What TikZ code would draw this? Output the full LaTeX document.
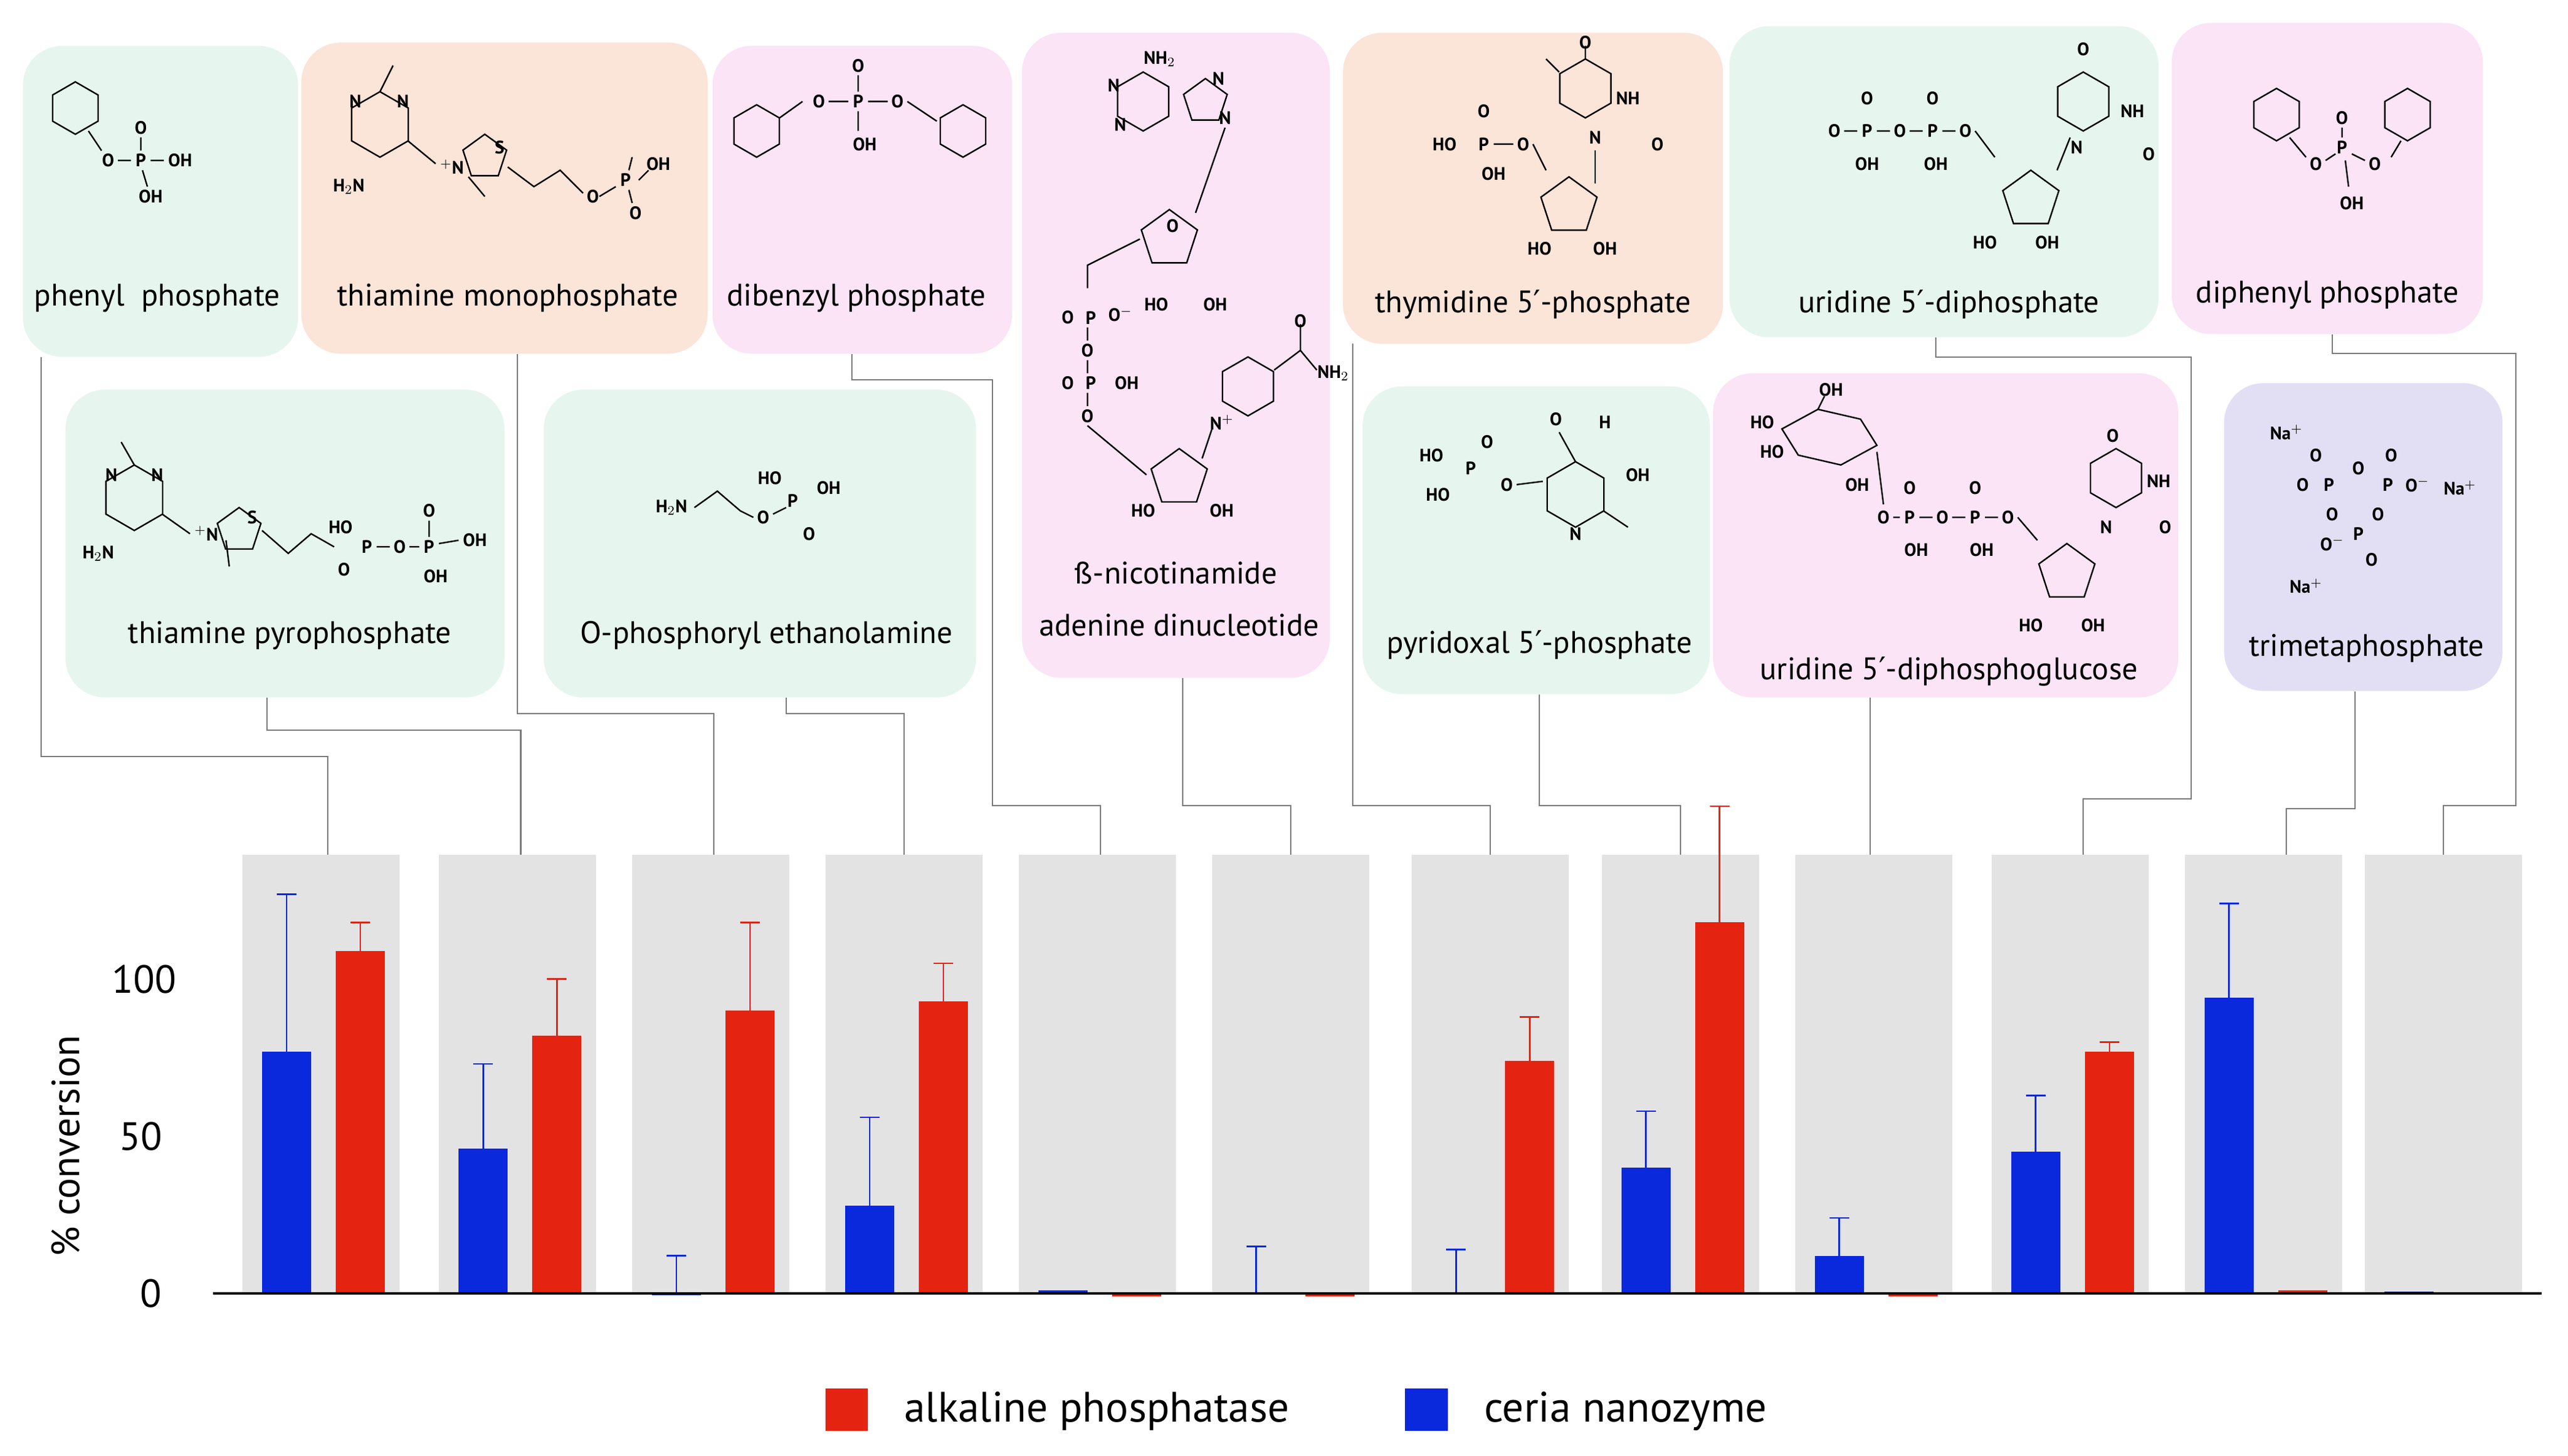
\documentclass[tikz,border=0pt]{standalone}
\usepackage{fontspec}
\setmainfont{PT Sans}
\newfontfamily\djv{DejaVu Sans}
\newcommand\pr{{\djv ′}}
\definecolor{cg}{HTML}{E6F6EE}
\definecolor{cp}{HTML}{FBE4D8}
\definecolor{ck}{HTML}{FAE4F6}
\definecolor{cl}{HTML}{E2DFF5}
\definecolor{pan}{HTML}{E3E3E3}
\definecolor{rr}{HTML}{E42410}
\definecolor{bb}{HTML}{0A28DC}
\definecolor{cn}{HTML}{7A7A7A}
\tikzset{box/.style={rounded corners=24pt,draw=none,inner sep=0},
chem/.style={font=\fontsize{11}{11}\selectfont\bfseries,inner sep=0.5pt,fill=none},
lab/.style={font=\fontsize{19}{21}\selectfont,inner sep=0},
bond/.style={line width=0.9pt},
conn/.style={draw=cn,line width=0.8pt},
panel/.style={fill=pan,draw=none,minimum width=96pt,minimum height=268pt,inner sep=0}}
\newcommand\bx[6]{\pgfmathsetmacro\bw{#4-#2}\pgfmathsetmacro\bh{#5-#3}\node[box,fill=#6,minimum width=\bw pt,minimum height=\bh pt] (#1) at ({(#2+#4)/2},{(#3+#5)/2}) {};}
\newcommand\ct[3]{\node[chem] at (#1,#2) {#3};}
\newcommand\hexa[3]{\draw[bond] (#1,#2) +(90:#3)--+(150:#3)--+(210:#3)--+(270:#3)--+(330:#3)--+(30:#3)--cycle;}
\newcommand\penta[3]{\draw[bond] (#1,#2) +(-90:#3)--+(-18:#3)--+(54:#3)--+(126:#3)--+(198:#3)--cycle;}
\newcommand\bars[5]{%
\pgfmathsetmacro\by{790-1.92*#2}\pgfmathsetmacro\bey{790-1.92*#3}%
\pgfmathsetmacro\ry{790-1.92*#4}\pgfmathsetmacro\rey{790-1.92*#5}%
\fill[bb] (#1+12,790) rectangle (#1+42,\by);
\fill[rr] (#1+57,790) rectangle (#1+87,\ry);
\ifdim #3pt>#2pt \draw[bb,line width=1pt] (#1+27,\by)--(#1+27,\bey) (#1+21,\bey)--(#1+33,\bey);\fi
\ifdim #5pt>#4pt \draw[rr,line width=1pt] (#1+72,\ry)--(#1+72,\rey) (#1+66,\rey)--(#1+78,\rey);\fi}
\begin{document}
\begin{tikzpicture}[x=1pt,y=-1pt]
\useasboundingbox[fill=white] (0,0) rectangle (1568,889);
% boxes
\bx{b1}{14}{28}{182}{218}{cg}
\bx{b2}{184}{26}{432}{216}{cp}
\bx{b3}{435}{28}{618}{216}{ck}
\bx{b4}{624}{20}{812}{414}{ck}
\bx{b5}{820}{20}{1052}{210}{cp}
\bx{b6}{1056}{16}{1318}{206}{cg}
\bx{b7}{1326}{14}{1516}{204}{ck}
\bx{b8}{40}{238}{308}{426}{cg}
\bx{b9}{332}{238}{596}{426}{cg}
\bx{b10}{832}{236}{1044}{424}{cg}
\bx{b11}{1046}{228}{1330}{426}{ck}
\bx{b12}{1358}{234}{1528}{422}{cl}
% labels
\node[lab] (l1) at (96,182) {phenyl\ \ phosphate};
\node[lab] (l2) at (310,182) {thiamine monophosphate};
\node[lab] (l3) at (523,182) {dibenzyl phosphate};
\node[lab] (l4a) at (718,350) {ß-nicotinamide};
\node[lab] (l4b) at (720,382) {adenine dinucleotide};
\node[lab] (l5) at (936,186) {thymidine 5\pr-phosphate};
\node[lab] (l6) at (1190,186) {uridine 5\pr-diphosphate};
\node[lab] (l7) at (1421,180) {diphenyl phosphate};
\node[lab] (l8) at (177,388) {thiamine pyrophosphate};
\node[lab] (l9) at (468,388) {O-phosphoryl ethanolamine};
\node[lab] (l10) at (940,394) {pyridoxal 5\pr-phosphate};
\node[lab] (l11) at (1190,410) {uridine 5\pr-diphosphoglucose};
\node[lab] (l12) at (1445,396) {trimetaphosphate};
% structures
% 1 phenyl phosphate
\hexa{46}{66}{16}
\draw[bond] (54,80)--(62,92) (72,98)--(80,98) (86,92)--(86,84) (92,98)--(100,98) (87,104)--(90,114);
\ct{66}{98}{O}\ct{86}{98}{P}\ct{86}{78}{O}\ct{110}{98}{OH}\ct{92}{120}{OH}
% 2 thiamine monophosphate
\hexa{232}{76}{20}
\draw[bond] (232,56)--(240,40) (249,86)--(266,100) (286,108)--(296,120) (310,102)--(326,114)--(342,104)--(356,118) (366,120)--(376,114) (384,104)--(386,96) (384,116)--(386,124) (390,110)--(396,104);
\ct{246}{62}{N}\ct{217}{62}{N}\ct{213}{114}{H$_2$N}\ct{276}{102}{$^{+}$N}
\penta{296}{96}{14}
\ct{305}{90}{S}\ct{362}{120}{O}\ct{382}{110}{P}\ct{402}{100}{OH}\ct{388}{130}{O}
% 3 dibenzyl
\hexa{462}{80}{16}\hexa{588}{80}{16}
\draw[bond] (476,72)--(490,62) (506,62)--(518,62) (524,56)--(524,46) (530,62)--(542,62) (554,62)--(572,74) (524,68)--(524,80);
\ct{500}{62}{O}\ct{524}{62}{P}\ct{524}{40}{O}\ct{548}{62}{O}\ct{528}{88}{OH}
% 4 NAD
\hexa{698}{62}{18}\penta{736}{62}{14}
\ct{708}{36}{NH$_2$}\ct{680}{52}{N}\ct{684}{76}{N}\ct{748}{72}{N}\ct{744}{48}{N}
\penta{714}{146}{18}
\draw[bond] (748,78)--(730,130) (696,146)--(664,162)--(664,176) (664,200)--(664,208) (664,220)--(664,228) (664,240)--(664,248) (664,260)--(700,290);
\ct{716}{138}{O}\ct{706}{186}{HO}\ct{742}{186}{OH}
\ct{652}{194}{O}\ct{666}{194}{P}\ct{684}{192}{O$^-$}\ct{664}{214}{O}
\ct{652}{234}{O}\ct{666}{234}{P}\ct{688}{234}{OH}\ct{664}{254}{O}
\hexa{762}{236}{18}
\draw[bond] (778,226)--(794,214)--(794,198) (794,214)--(804,226);
\ct{794}{196}{O}\ct{814}{228}{NH$_2$}\ct{746}{258}{N$^+$}
\penta{720}{292}{18}
\draw[bond] (740,262)--(734,280);
\ct{698}{312}{HO}\ct{746}{312}{OH}
% 5 thymidine
\ct{882}{88}{HO}\ct{906}{88}{P}\ct{906}{68}{O}\ct{912}{106}{OH}\ct{930}{88}{O}
\draw[bond] (912,88)--(924,88) (936,88)--(944,104);
\hexa{968}{54}{18}
\draw[bond] (968,36)--(968,28) (952,44)--(944,36);
\ct{968}{26}{O}\ct{994}{60}{NH}\ct{974}{84}{N}\ct{1012}{88}{O}
\penta{958}{126}{18}
\draw[bond] (974,92)--(974,112);
\ct{940}{152}{HO}\ct{980}{152}{OH}
% 6 UDP
\ct{1120}{80}{O}\ct{1140}{80}{P}\ct{1160}{80}{O}\ct{1180}{80}{P}\ct{1200}{80}{O}
\ct{1140}{60}{O}\ct{1180}{60}{O}\ct{1140}{100}{OH}\ct{1182}{100}{OH}
\draw[bond] (1126,80)--(1134,80) (1146,80)--(1154,80) (1166,80)--(1174,80) (1186,80)--(1194,80) (1206,80)--(1218,96);
\penta{1240}{122}{18}
\ct{1212}{148}{HO}\ct{1250}{148}{OH}
\hexa{1272}{62}{18}
\draw[bond] (1264,84)--(1256,104);
\ct{1272}{30}{O}\ct{1302}{68}{NH}\ct{1268}{90}{N}\ct{1312}{94}{O}
% 7 diphenyl
\hexa{1390}{70}{16}\hexa{1470}{70}{16}
\draw[bond] (1398,84)--(1408,96) (1420,98)--(1426,94) (1436,94)--(1444,98) (1460,96)--(1466,86) (1430,84)--(1430,78) (1432,98)--(1434,114);
\ct{1414}{100}{O}\ct{1430}{90}{P}\ct{1450}{100}{O}\ct{1430}{72}{O}\ct{1436}{124}{OH}
% 8 TPP
\hexa{82}{304}{20}
\draw[bond] (82,284)--(74,270) (99,314)--(116,326) (138,330)--(140,346) (160,324)--(176,338)--(190,326)--(204,334);
\ct{96}{290}{N}\ct{68}{290}{N}\ct{60}{338}{H$_2$N}\ct{126}{326}{$^{+}$N}
\penta{146}{324}{14}
\ct{154}{316}{S}\ct{208}{322}{HO}\ct{224}{334}{P}\ct{210}{348}{O}\ct{244}{334}{O}\ct{262}{334}{P}\ct{262}{312}{O}\ct{290}{330}{OH}\ct{266}{352}{OH}
\draw[bond] (230,334)--(238,334) (250,334)--(256,334) (268,332)--(280,330) (262,328)--(262,318);
% 9 O-phosphoryl ethanolamine
\ct{410}{310}{H$_2$N}\ct{466}{316}{O}\ct{484}{306}{P}\ct{470}{292}{HO}\ct{506}{298}{OH}\ct{494}{326}{O}
\draw[bond] (424,310)--(438,300)--(452,312)--(460,316) (472,314)--(480,310);
% 10 pyridoxal
\ct{874}{278}{HO}\ct{898}{286}{P}\ct{908}{270}{O}\ct{878}{302}{HO}\ct{920}{296}{O}
\hexa{962}{302}{20}
\draw[bond] (926,296)--(942,294) (962,282)--(952,264) (979,312)--(994,322);
\ct{950}{256}{O}\ct{980}{258}{H}\ct{1000}{290}{OH}\ct{962}{326}{N}
% 11 UDPG
\draw[bond] (1088,262)--(1110,250)--(1136,256)--(1146,272)--(1124,284)--(1098,278)--cycle (1110,250)--(1114,242);
\ct{1118}{238}{OH}\ct{1076}{258}{HO}\ct{1082}{276}{HO}\ct{1134}{296}{OH}
\ct{1150}{316}{O}\ct{1166}{316}{P}\ct{1186}{316}{O}\ct{1206}{316}{P}\ct{1226}{316}{O}
\ct{1166}{298}{O}\ct{1206}{298}{O}\ct{1170}{336}{OH}\ct{1210}{336}{OH}
\draw[bond] (1146,276)--(1150,308) (1232,316)--(1244,330) (1156,316)--(1160,316) (1172,316)--(1180,316) (1192,316)--(1200,316) (1212,316)--(1220,316);
\penta{1262}{350}{18}
\ct{1240}{382}{HO}\ct{1278}{382}{OH}
\hexa{1292}{292}{18}
\ct{1290}{266}{O}\ct{1318}{294}{NH}\ct{1286}{322}{N}\ct{1322}{322}{O}
% 12 trimetaphosphate
\ct{1396}{264}{Na$^+$}\ct{1414}{278}{O}\ct{1406}{296}{O}\ct{1422}{296}{P}\ct{1440}{286}{O}\ct{1458}{296}{P}\ct{1476}{296}{O$^-$}\ct{1460}{278}{O}
\ct{1502}{298}{Na$^+$}\ct{1424}{314}{O}\ct{1452}{314}{O}\ct{1440}{326}{P}\ct{1448}{342}{O}\ct{1424}{332}{O$^-$}\ct{1408}{358}{Na$^+$}
% panels
\foreach \i/\x in {1/148,2/268,3/386,4/504,5/622,6/740,7/862,8/978,9/1096,10/1216,11/1334,12/1444}{
\node[panel] (p\i) at (\x+48,656) {};}
% connectors
\draw[conn] (25,218)--(25,462)--(200,462)--(200,522);
\draw[conn] (b8.south -| 163,0)--(163,446)--(318,446)--(318,522);
\draw[conn] (b2.south -| 316,0)--(316,436)--(436,436)--(436,522);
\draw[conn] (b9.south -| 480,0)--(480,436)--(552,436)--(552,522);
\draw[conn] (b3.south -| 520,0)--(520,232)--(606,232)--(606,492)--(672,492)--(672,522);
\draw[conn] (b4.south -| 722,0)--(722,492)--(788,492)--(788,522);
\draw[conn] (826,210)--(826,492)--(910,492)--(910,522);
\draw[conn] (b10.south -| 940,0)--(940,492)--(1026,492)--(1026,522);
\draw[conn] (b11.south -| 1142,0)--(1142,522);
\draw[conn] (b6.south -| 1182,0)--(1182,218)--(1338,218)--(1338,488)--(1272,488)--(1272,522);
\draw[conn] (b12.south -| 1438,0)--(1438,494)--(1396,494)--(1396,522);
\draw[conn] (b7.south -| 1424,0)--(1424,216)--(1536,216)--(1536,492)--(1492,492)--(1492,522);
% bars
\bars{148}{77}{127}{109}{118}
\bars{268}{46}{73}{82}{100}
\bars{386}{-0.5}{12}{90}{118}
\bars{504}{28}{56}{93}{105}
\bars{622}{1}{0}{-1}{0}
\bars{740}{0}{15}{-1}{0}
\bars{862}{0}{14}{74}{88}
\bars{978}{40}{58}{118}{155}
\bars{1096}{12}{24}{-1}{0}
\bars{1216}{45}{63}{77}{80}
\bars{1334}{94}{124}{1}{0}
\bars{1444}{0.5}{0}{0}{0}
\draw[line width=1.2pt] (130,790)--(1552,790);
\node[lab,font=\fontsize{24}{24}\selectfont] (t0) at (92,790) {0};
\node[lab,font=\fontsize{24}{24}\selectfont] (t50) at (86,694) {50};
\node[lab,font=\fontsize{24}{24}\selectfont] (t100) at (88,598) {100};
\node[lab,font=\fontsize{24}{24}\selectfont,rotate=90] (yl) at (40,700) {\% conversion};
% legend
\fill[rr] (504,848) rectangle (530,874);
\node[lab,font=\fontsize{26}{26}\selectfont,anchor=west] (lg1) at (552,862) {alkaline phosphatase};
\fill[bb] (858,848) rectangle (884,874);
\node[lab,font=\fontsize{26}{26}\selectfont,anchor=west] (lg2) at (906,862) {ceria nanozyme};
\end{tikzpicture}
\end{document}
